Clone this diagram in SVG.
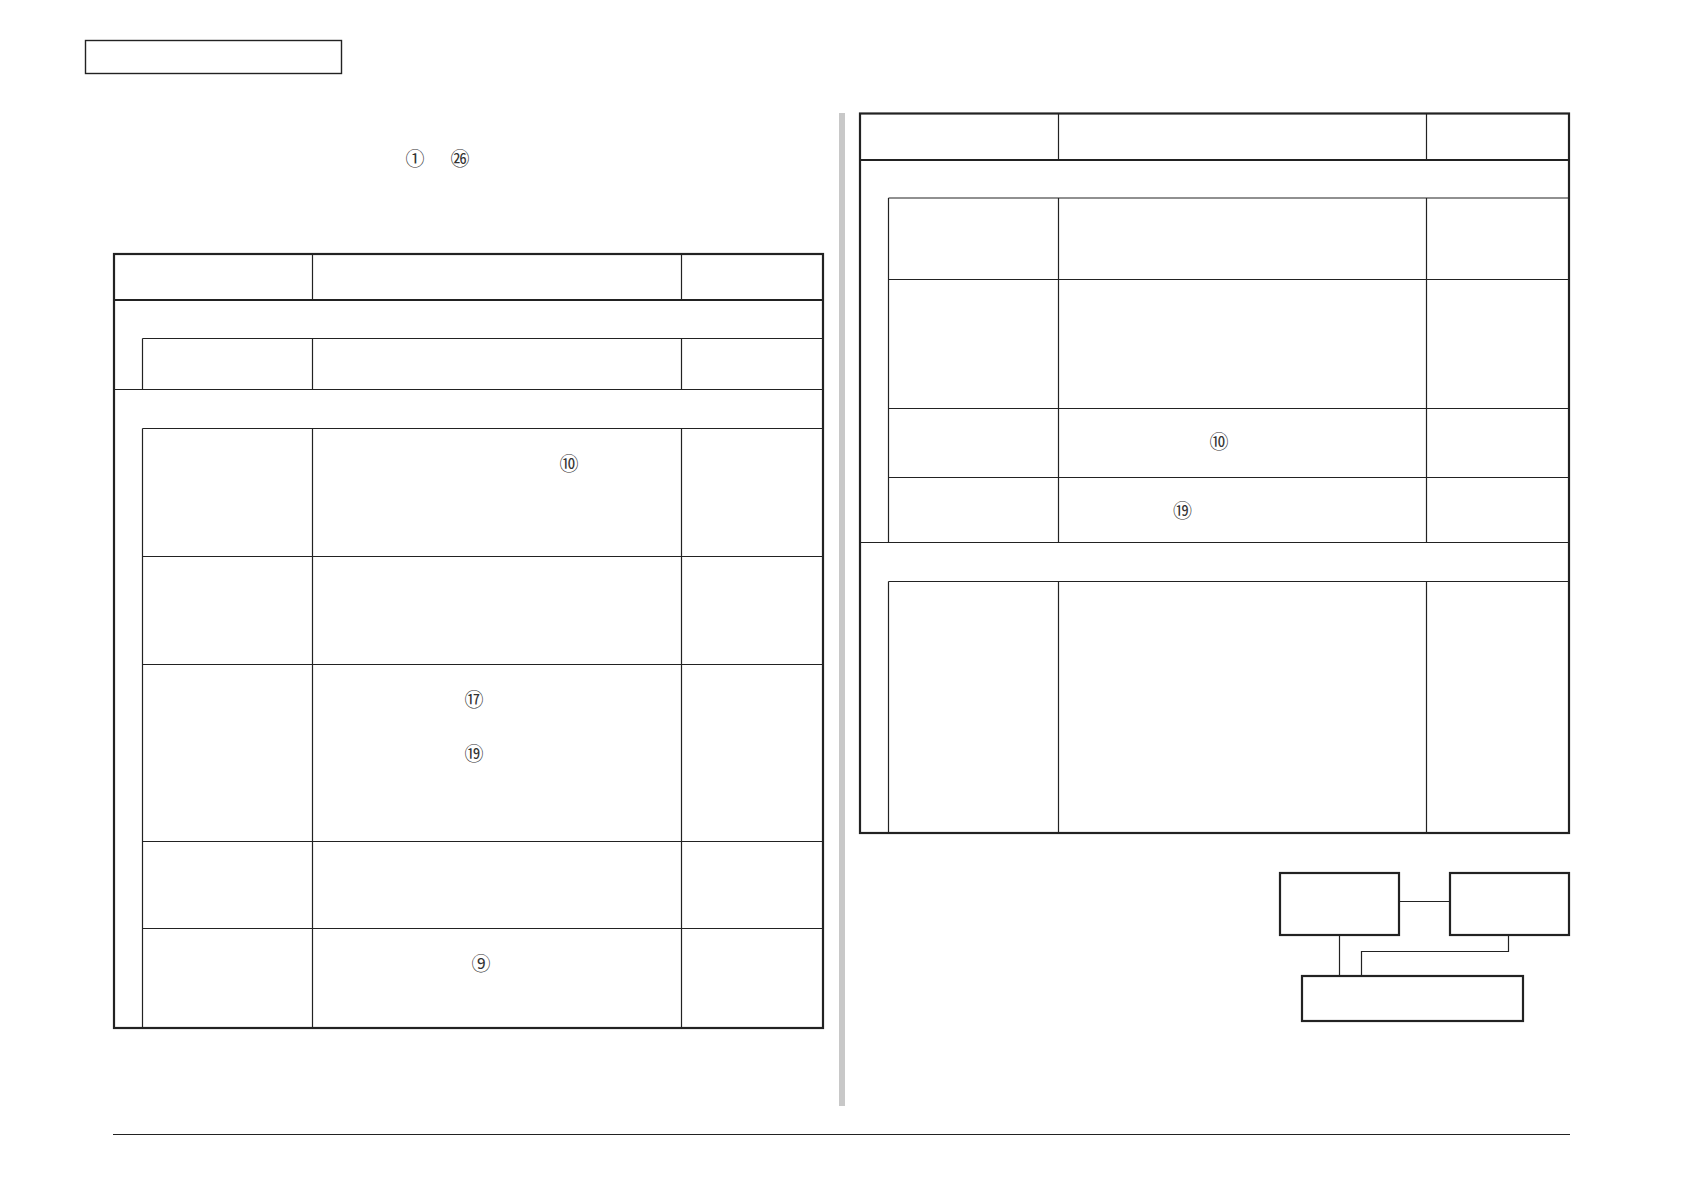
<svg xmlns="http://www.w3.org/2000/svg" width="1684" height="1191" viewBox="0 0 1684 1191">
<style>
.bg{fill:#fff}
.thick{fill:none;stroke:#222;stroke-width:2.2}
.thin{fill:none;stroke:#222;stroke-width:1.2}
.box{fill:#fff;stroke:#222;stroke-width:2.2}
.hdr{fill:#fff;stroke:#222;stroke-width:1.4}
.bar{fill:#c8c8c8}
.c{font-family:"Noto Sans CJK JP","DejaVu Sans",sans-serif;font-size:19px;fill:#333;text-anchor:middle;dominant-baseline:central}
</style>
<rect class="bg" width="1684" height="1191"/>
<rect id="page-header" class="hdr" x="85.5" y="40.5" width="256" height="33"/>
<rect id="divider" class="bar" x="839" y="113" width="6" height="993"/>
<path id="footer-rule" class="thin" d="M113 1134.500H1570"/>
<g id="intro-marks">
<text class="c" x="415" y="157">①</text>
<text class="c" x="460" y="157">㉖</text>
</g>
<g id="table-left">
<path class="thin" d="M312.500 254V300M681.500 254V300M312.500 338.500V389.500M681.500 338.500V389.500M312.500 428.500V1028M681.500 428.500V1028M142.500 338.500V389.500M142.500 428.500V1028M142.500 338.500H823M114 389.500H823M142.500 428.500H823M142.500 556.500H823M142.500 664.500H823M142.500 841.500H823M142.500 928.500H823"/>
<rect class="thick" x="114" y="254" width="709" height="774"/>
<path class="thick" d="M114 300H823"/>
<text class="c" x="569" y="462">⑩</text>
<text class="c" x="474" y="698">⑰</text>
<text class="c" x="474" y="752">⑲</text>
<text class="c" x="481" y="962">⑨</text>
</g>
<g id="table-right">
<path class="thin" d="M1058.500 113V160M1426.500 113V160M1058.500 198V542.500M1426.500 198V542.500M1058.500 581.500V833M1426.500 581.500V833M888.500 198V542.500M888.500 581.500V833M888.500 198H1569M888.500 279.500H1569M888.500 408.500H1569M888.500 477.500H1569M860 542.500H1569M888.500 581.500H1569"/>
<rect class="thick" x="860" y="113.500" width="709" height="719.500"/>
<path class="thick" d="M860 160H1569"/>
<text class="c" x="1219" y="440">⑩</text>
<text class="c" x="1182.500" y="509">⑲</text>
</g>
<g id="connectors">
<path class="thin" d="M1399 901.500H1450"/>
<path class="thin" d="M1339.500 935V976"/>
<path class="thin" d="M1508.500 935V951.500H1361.500V976"/>
</g>
<g id="node-a"><rect class="box" x="1280" y="873" width="119" height="62"/></g>
<g id="node-b"><rect class="box" x="1450" y="873" width="119" height="62"/></g>
<g id="node-c"><rect class="box" x="1302" y="976" width="221" height="45"/></g>
</svg>
